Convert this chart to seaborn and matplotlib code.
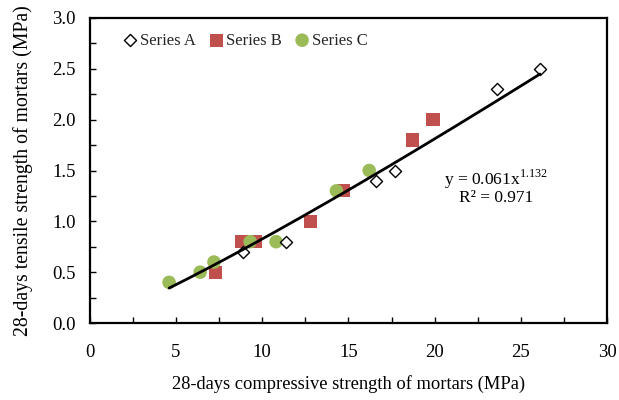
import numpy as np
import pandas as pd
import matplotlib
matplotlib.use("Agg")
import matplotlib.pyplot as plt
import seaborn as sns
from matplotlib.ticker import MultipleLocator

# Compressive (x) and tensile (y) strengths, MPa
series_a_x = [8.9, 11.4, 16.6, 17.7, 23.6, 26.1]
series_a_y = [0.7, 0.8, 1.4, 1.5, 2.3, 2.5]
series_b_x = [7.3, 8.8, 9.6, 12.8, 14.7, 18.7, 19.9]
series_b_y = [0.5, 0.8, 0.8, 1.0, 1.3, 1.8, 2.0]
series_c_x = [4.6, 6.4, 7.2, 9.3, 10.8, 14.3, 16.2]
series_c_y = [0.4, 0.5, 0.6, 0.8, 0.8, 1.3, 1.5]

# Power-law fit y = a * x^b
fit_a = 0.061
fit_b = 1.132
fit_r2 = 0.971

sns.set_theme(style="white")
plt.rcParams["font.family"] = ["Liberation Serif", "DejaVu Serif"]
plt.rcParams["mathtext.fontset"] = "custom"
plt.rcParams["mathtext.rm"] = "Liberation Serif"

fig = plt.figure(figsize=(6.19, 4.0), dpi=100)
ax = fig.add_axes([0.145, 0.1925, 0.836, 0.7625])

df_a = pd.DataFrame({"x": series_a_x, "y": series_a_y})
df_b = pd.DataFrame({"x": series_b_x, "y": series_b_y})
df_c = pd.DataFrame({"x": series_c_x, "y": series_c_y})

all_x = np.array(series_a_x + series_b_x + series_c_x)
trend_x = np.linspace(all_x.min(), all_x.max(), 200)
trend = pd.DataFrame({"x": trend_x, "y": fit_a * trend_x ** fit_b})

sns.scatterplot(data=df_b, x="x", y="y", ax=ax, marker="s", s=90,
                color="#C0504D", edgecolor="none", label="Series B", zorder=3)
sns.scatterplot(data=df_c, x="x", y="y", ax=ax, marker="o", s=95,
                color="#9BBB59", edgecolor="none", label="Series C", zorder=3)
sns.scatterplot(data=df_a, x="x", y="y", ax=ax, marker="D", s=38,
                facecolor="white", edgecolor="black", linewidth=1.0,
                label="Series A", zorder=4)
sns.lineplot(data=trend, x="x", y="y", ax=ax, color="black", linewidth=2.0,
             zorder=5, legend=False)

ax.set_xlim(0, 30)
ax.set_ylim(0, 3.0)
ax.xaxis.set_major_locator(MultipleLocator(5))
ax.xaxis.set_minor_locator(MultipleLocator(2.5))
ax.yaxis.set_major_locator(MultipleLocator(0.5))
ax.yaxis.set_minor_locator(MultipleLocator(0.25))
ax.yaxis.set_major_formatter(matplotlib.ticker.FormatStrFormatter("%.1f"))
ax.tick_params(which="both", direction="in", length=4, width=1.0,
               bottom=True, left=True, top=False, right=False, colors="black",
               labelsize=13.5)
ax.tick_params(axis="x", pad=15)
ax.tick_params(axis="y", pad=10)
for sp in ax.spines.values():
    sp.set_visible(True)
    sp.set_color("black")
    sp.set_linewidth(1.6)

ax.set_xlabel("28-days compressive strength of mortars (MPa)", fontsize=13.3,
              labelpad=10, color="black")
ax.set_ylabel("28-days tensile strength of mortars (MPa)", fontsize=14.2,
              labelpad=14, color="black")

handles, labels = ax.get_legend_handles_labels()
order = [labels.index(n) for n in ["Series A", "Series B", "Series C"]]
ax.legend([handles[i] for i in order], [labels[i] for i in order],
          loc="upper left", bbox_to_anchor=(0.04, 0.985), ncol=3, frameon=False,
          fontsize=12, handletextpad=0.0, columnspacing=0.6, handlelength=1.2,
          borderaxespad=0.2)

ax.text(0.785, 0.47, r"y = 0.061x$^{1.132}$", transform=ax.transAxes,
        ha="center", va="center", fontsize=12.5, color="black")
ax.text(0.785, 0.41, "R² = 0.971", transform=ax.transAxes,
        ha="center", va="center", fontsize=12.5, color="black")

fig.savefig("out.png", dpi=100, facecolor="white")
